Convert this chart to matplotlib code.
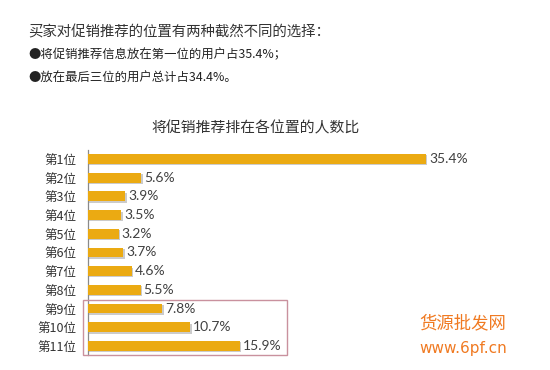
import matplotlib
matplotlib.use("Agg")
import matplotlib.pyplot as plt
from matplotlib.patches import Rectangle
import matplotlib.patheffects as pe

plt.rcParams['font.family'] = ['Noto Sans CJK SC', 'DejaVu Sans']

# data
positions = ["第1位", "第2位", "第3位", "第4位", "第5位", "第6位",
             "第7位", "第8位", "第9位", "第10位", "第11位"]
shares = [35.4, 5.6, 3.9, 3.5, 3.2, 3.7, 4.6, 5.5, 7.8, 10.7, 15.9]
highlight = [8, 9, 10]  # last three positions

headline = "买家对促销推荐的位置有两种截然不同的选择："
bullets = ["●将促销推荐信息放在第一位的用户占35.4%；",
           "●放在最后三位的用户总计占34.4%。"]
chart_title = "将促销推荐排在各位置的人数比"

bar_color = "#EBAA12"
text_gray = "#404040"

fig = plt.figure(figsize=(5.5, 3.7), dpi=100)
W, H = 550, 370

# axes placed in pixel terms
left, top, right, bottom = 88, 149.6, 540, 355.3
ax = fig.add_axes([left / W, 1 - bottom / H, (right - left) / W, (bottom - top) / H])

ypos = list(range(len(positions)))
bars = ax.barh(ypos, shares, height=0.52, color=bar_color, zorder=3)
for b in bars:
    b.set_path_effects([pe.SimplePatchShadow(offset=(1, -1), shadow_rgbFace="#999999", alpha=0.5),
                        pe.Normal()])

scale = 9.55  # px per percent
ax.set_xlim(0, (right - left) / scale)
ax.set_ylim(len(positions) - 0.5, -0.5)

for y, v in zip(ypos, shares):
    ax.text(v + 0.3, y, f"{v}%", va="center", ha="left", fontsize=10,
            color=text_gray, family=["Lato", "DejaVu Sans"])

ax.set_yticks(ypos)
ax.set_yticklabels(positions, fontsize=9, color="#333333")
ax.tick_params(axis="y", length=0, pad=8.5)
ax.set_xticks([])
for s in ["top", "right", "bottom"]:
    ax.spines[s].set_visible(False)
ax.spines["left"].set_color("#8a8a8a")
ax.spines["left"].set_linewidth(0.9)

# highlight box around the last three positions
y0 = min(highlight) - 0.46
y1 = max(highlight) + 0.47
x1 = max(shares[i] for i in highlight) + 4.9
ax.add_patch(Rectangle((-0.55, y0), x1 + 0.55, y1 - y0, fill=False,
                       edgecolor="#C9919E", linewidth=1.0, clip_on=False, zorder=4))

# texts
fig.text(28 / W, 1 - 32 / H, headline, fontsize=10.4, color="#333333", va="center", ha="left")
fig.text(28 / W, 1 - 55 / H, bullets[0], fontsize=8.9, color="#222222", va="center", ha="left")
fig.text(28 / W, 1 - 78 / H, bullets[1], fontsize=8.9, color="#222222", va="center", ha="left")
fig.text(256 / W, 1 - 128 / H, chart_title, fontsize=10.7, color="#333333", va="center", ha="center")

# watermark
fig.text(463 / W, 1 - 323 / H, "货源批发网", fontsize=12.5, color="#F07A22", va="center", ha="center")
fig.text(463 / W, 1 - 349 / H, "www.6pf.cn", fontsize=11, color="#F07A22", va="center", ha="center",
         family=["DejaVu Sans"])

fig.savefig("out.png", dpi=100)
